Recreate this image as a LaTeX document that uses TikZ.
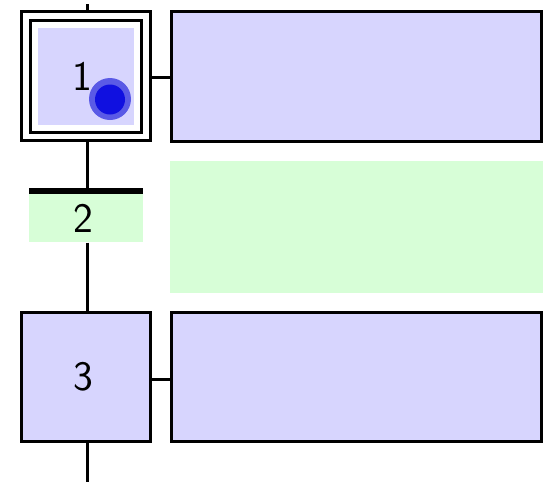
\documentclass[tikz,border=0pt]{standalone}
\definecolor{lav}{RGB}{215,213,254}
\definecolor{mint}{RGB}{215,254,215}
\definecolor{tokring}{RGB}{90,90,230}
\definecolor{tokcore}{RGB}{16,16,224}
\begin{document}
\begin{tikzpicture}[x=1pt,y=-1pt,
  link/.style={line width=3pt},
  stepbox/.style={draw,line width=3pt,fill=lav,inner sep=0pt,minimum width=128.5pt},
  actbox/.style={draw,line width=3pt,fill=lav,inner sep=0pt,minimum width=370pt},
  digit/.style={font=\sffamily\fontsize{42}{42}\selectfont,inner sep=0pt}]
\useasboundingbox (0,0) rectangle (543,482);
% step 1 (initial step)
\node[stepbox,fill=white,minimum height=129pt] (s1) at (85.75,76) {};
\node[draw,line width=3pt,inner sep=0pt,minimum width=111pt,minimum height=112pt] (s1in) at (86,76.5) {};
\node[fill=lav,inner sep=0pt,minimum width=96pt,minimum height=97pt] (s1fill) at (86,76.5) {};
\node[digit] (n1) at (82,76) {1};
\node[circle,fill=tokring,inner sep=0pt,minimum size=42pt] (tokout) at (110,99) {};
\node[circle,fill=tokcore,inner sep=0pt,minimum size=30pt] (tok) at (110,99.5) {};
% action of step 1
\node[actbox,minimum height=129.5pt] (a1) at (356.5,76.25) {};
% transition 2
\node[fill=black,inner sep=0pt,minimum width=114pt,minimum height=6pt] (t2bar) at (86,191) {};
\node[fill=mint,inner sep=0pt,minimum width=114pt,minimum height=48pt,anchor=north] (t2) at (t2bar.south) {};
\node[digit] (n2) at (83,218) {2};
\node[fill=mint,inner sep=0pt,minimum width=373pt,minimum height=132pt] (r2) at (356.5,227) {};
% step 3
\node[stepbox,minimum height=129.3pt] (s3) at (85.75,377.15) {};
\node[digit] (n3) at (83.3,377) {3};
\node[actbox,minimum height=129.3pt] (a3) at (356.5,377.15) {};
% spine
\coordinate (top) at (87.5,4);
\coordinate (bot) at (87.5,482);
\draw[link] (top) -- (top |- s1.north);
\draw[link] (top |- s1.south) -- (top |- t2bar.north);
\draw[link] (top |- t2.south) -- (top |- s3.north);
\draw[link] (top |- s3.south) -- (bot);
% action links
\draw[link] (s1.east |- 0,77.3) -- (a1.west |- 0,77.3);
\draw[link] (s3.east |- 0,379.3) -- (a3.west |- 0,379.3);
\end{tikzpicture}
\end{document}
